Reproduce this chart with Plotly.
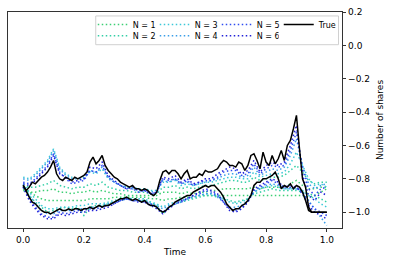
import numpy as np
import plotly.graph_objects as go

# time grids
t_true = np.linspace(0, 1, 101)
t_apx = np.linspace(0, 1, 51)

true_a = [-0.84, -0.87, -0.85, -0.82, -0.83, -0.81, -0.79, -0.78, -0.76, -0.73,
          -0.69, -0.77, -0.80, -0.81, -0.79, -0.80, -0.81, -0.79, -0.80, -0.79,
          -0.78, -0.76, -0.70, -0.67, -0.71, -0.69, -0.66, -0.72, -0.75, -0.77,
          -0.79, -0.80, -0.82, -0.83, -0.84, -0.85, -0.84, -0.86, -0.86, -0.87,
          -0.86, -0.87, -0.89, -0.90, -0.88, -0.81, -0.76, -0.75, -0.77, -0.75,
          -0.75, -0.77, -0.80, -0.77, -0.75, -0.80, -0.79, -0.79, -0.77, -0.78,
          -0.75, -0.76, -0.76, -0.75, -0.74, -0.71, -0.69, -0.70, -0.72, -0.72,
          -0.73, -0.70, -0.71, -0.75, -0.72, -0.66, -0.65, -0.69, -0.74, -0.64,
          -0.70, -0.72, -0.66, -0.71, -0.68, -0.63, -0.69, -0.60, -0.57, -0.50,
          -0.42, -0.62, -0.80, -0.85, -0.97, -1.00, -1.00, -1.00, -1.00, -1.00,
          -1.00]

true_b = [-0.84, -0.88, -0.91, -0.94, -0.95, -0.97, -0.99, -1.00, -1.00, -1.01,
          -1.00, -0.99, -0.98, -0.99, -0.99, -0.98, -0.99, -0.98, -0.98, -0.99,
          -0.98, -0.98, -0.97, -0.98, -0.97, -0.96, -0.97, -0.96, -0.96, -0.95,
          -0.94, -0.93, -0.92, -0.92, -0.91, -0.92, -0.93, -0.92, -0.93, -0.94,
          -0.93, -0.95, -0.96, -0.96, -0.97, -0.99, -1.00, -0.99, -0.97, -0.96,
          -0.94, -0.93, -0.92, -0.91, -0.90, -0.90, -0.88, -0.87, -0.86, -0.85,
          -0.84, -0.85, -0.84, -0.84, -0.86, -0.88, -0.91, -0.95, -0.97, -0.99,
          -0.98, -0.98, -0.96, -0.95, -0.93, -0.90, -0.84, -0.82, -0.82, -0.80,
          -0.80, -0.79, -0.78, -0.76, -0.80, -0.86, -0.84, -0.85, -0.83, -0.86,
          -0.84, -0.85, -0.88, -0.93, -0.99, -1.00, -1.00, -1.00, -1.00, -1.00,
          -1.00]

# approximations, path A
a_n1 = [-0.87, -0.88, -0.88, -0.87, -0.87, -0.86, -0.88, -0.88, -0.89, -0.88,
        -0.88, -0.87, -0.88, -0.87, -0.88, -0.89, -0.89, -0.90, -0.90, -0.90,
        -0.90, -0.90, -0.90, -0.88, -0.88, -0.88, -0.89, -0.88, -0.89, -0.88,
        -0.88, -0.87, -0.87, -0.86, -0.86, -0.86, -0.86, -0.86, -0.85, -0.86,
        -0.85, -0.85, -0.85, -0.85, -0.83, -0.81, -0.84, -0.86, -0.86, -0.85, -0.85]
a_n2 = [-0.84, -0.85, -0.85, -0.84, -0.83, -0.81, -0.84, -0.85, -0.86, -0.85,
        -0.85, -0.83, -0.84, -0.82, -0.85, -0.86, -0.87, -0.87, -0.88, -0.88,
        -0.88, -0.89, -0.89, -0.85, -0.85, -0.84, -0.86, -0.85, -0.86, -0.85,
        -0.84, -0.84, -0.83, -0.82, -0.81, -0.81, -0.82, -0.82, -0.79, -0.81,
        -0.80, -0.79, -0.79, -0.78, -0.75, -0.72, -0.76, -0.81, -0.83, -0.82, -0.82]
a_n3 = [-0.79, -0.80, -0.77, -0.73, -0.69, -0.62, -0.73, -0.77, -0.79, -0.80,
        -0.79, -0.76, -0.77, -0.74, -0.80, -0.82, -0.84, -0.85, -0.85, -0.86,
        -0.86, -0.87, -0.87, -0.82, -0.82, -0.81, -0.84, -0.83, -0.84, -0.83,
        -0.82, -0.82, -0.81, -0.80, -0.79, -0.79, -0.80, -0.80, -0.76, -0.79,
        -0.78, -0.77, -0.77, -0.76, -0.71, -0.64, -0.72, -0.80, -0.84, -0.83, -0.85]
a_n4 = [-0.80, -0.81, -0.78, -0.74, -0.70, -0.63, -0.74, -0.78, -0.80, -0.80,
        -0.80, -0.75, -0.76, -0.73, -0.79, -0.82, -0.84, -0.85, -0.86, -0.87,
        -0.87, -0.88, -0.87, -0.81, -0.82, -0.80, -0.83, -0.82, -0.84, -0.83,
        -0.82, -0.81, -0.80, -0.78, -0.77, -0.77, -0.79, -0.78, -0.73, -0.78,
        -0.76, -0.74, -0.75, -0.73, -0.66, -0.56, -0.72, -0.83, -0.86, -0.84, -0.83]
a_n5 = [-0.82, -0.83, -0.80, -0.76, -0.72, -0.65, -0.76, -0.80, -0.83, -0.82,
        -0.81, -0.75, -0.76, -0.72, -0.79, -0.82, -0.84, -0.86, -0.86, -0.88,
        -0.87, -0.89, -0.88, -0.80, -0.81, -0.80, -0.83, -0.81, -0.84, -0.82,
        -0.81, -0.81, -0.79, -0.76, -0.75, -0.75, -0.78, -0.77, -0.71, -0.77,
        -0.74, -0.72, -0.73, -0.72, -0.63, -0.52, -0.74, -0.86, -0.90, -0.86, -0.85]
a_n6 = [-0.83, -0.84, -0.81, -0.77, -0.73, -0.66, -0.77, -0.79, -0.82, -0.81,
        -0.80, -0.73, -0.74, -0.70, -0.78, -0.81, -0.84, -0.86, -0.85, -0.87,
        -0.87, -0.89, -0.88, -0.79, -0.80, -0.78, -0.82, -0.80, -0.83, -0.82,
        -0.80, -0.80, -0.77, -0.75, -0.73, -0.74, -0.77, -0.75, -0.69, -0.76,
        -0.72, -0.70, -0.72, -0.70, -0.60, -0.48, -0.78, -0.90, -0.93, -0.88, -0.90]

# approximations, path B
b_n1 = [-0.86, -0.88, -0.90, -0.92, -0.93, -0.93, -0.93, -0.93, -0.93, -0.93,
        -0.93, -0.92, -0.92, -0.92, -0.92, -0.91, -0.91, -0.91, -0.91, -0.91,
        -0.91, -0.92, -0.92, -0.93, -0.92, -0.92, -0.91, -0.91, -0.91, -0.90,
        -0.90, -0.90, -0.90, -0.90, -0.90, -0.90, -0.90, -0.90, -0.90, -0.90,
        -0.90, -0.90, -0.90, -0.90, -0.90, -0.90, -0.90, -0.91, -0.90, -0.88, -0.86]
b_n2 = [-0.85, -0.90, -0.94, -0.97, -1.00, -0.99, -0.98, -0.97, -0.98, -0.97,
        -1.02, -0.97, -0.96, -0.96, -0.95, -0.94, -0.93, -0.92, -0.92, -0.93,
        -0.93, -0.94, -0.96, -1.01, -0.97, -0.95, -0.94, -0.93, -0.92, -0.91,
        -0.90, -0.90, -0.91, -0.92, -0.93, -0.94, -0.93, -0.92, -0.89, -0.88,
        -0.87, -0.86, -0.87, -0.87, -0.87, -0.87, -0.88, -0.89, -0.90, -0.92, -0.94]
b_n3 = [-0.83, -0.88, -0.92, -0.96, -0.98, -0.98, -0.97, -0.97, -0.97, -0.96,
        -0.96, -0.95, -0.95, -0.95, -0.94, -0.93, -0.92, -0.91, -0.92, -0.92,
        -0.92, -0.94, -0.95, -0.97, -0.95, -0.94, -0.93, -0.92, -0.91, -0.90,
        -0.89, -0.89, -0.90, -0.92, -0.94, -0.95, -0.94, -0.92, -0.88, -0.86,
        -0.85, -0.84, -0.85, -0.86, -0.86, -0.86, -0.87, -0.90, -0.92, -0.95, -0.97]
b_n4 = [-0.84, -0.90, -0.95, -0.99, -1.01, -1.01, -0.99, -0.99, -0.99, -0.98,
        -0.98, -0.97, -0.97, -0.96, -0.95, -0.94, -0.93, -0.92, -0.93, -0.93,
        -0.93, -0.95, -0.96, -0.98, -0.96, -0.95, -0.94, -0.92, -0.91, -0.90,
        -0.89, -0.89, -0.91, -0.94, -0.97, -0.97, -0.96, -0.93, -0.88, -0.86,
        -0.84, -0.83, -0.84, -0.86, -0.86, -0.86, -0.88, -0.93, -0.98, -1.03, -1.08]
b_n5 = [-0.85, -0.92, -0.97, -1.01, -1.03, -1.03, -1.00, -1.01, -1.00, -0.99,
        -0.99, -0.98, -0.98, -0.97, -0.96, -0.95, -0.93, -0.92, -0.93, -0.93,
        -0.94, -0.95, -0.97, -1.00, -0.97, -0.95, -0.94, -0.92, -0.90, -0.89,
        -0.87, -0.88, -0.90, -0.94, -0.98, -0.99, -0.97, -0.94, -0.87, -0.85,
        -0.83, -0.81, -0.83, -0.85, -0.85, -0.85, -0.88, -0.94, -0.98, -1.00, -1.02]
b_n6 = [-0.85, -0.93, -0.98, -1.02, -1.04, -1.04, -1.01, -1.02, -1.01, -1.00,
        -1.00, -0.99, -0.99, -0.98, -0.97, -0.95, -0.93, -0.92, -0.93, -0.94,
        -0.94, -0.96, -0.98, -1.01, -0.98, -0.95, -0.93, -0.92, -0.90, -0.88,
        -0.86, -0.87, -0.89, -0.94, -0.99, -1.00, -0.98, -0.94, -0.86, -0.84,
        -0.82, -0.80, -0.82, -0.85, -0.84, -0.85, -0.89, -0.96, -1.00, -1.02, -1.04]

labels = ["N = 1", "N = 2", "N = 3", "N = 4", "N = 5", "N = 6"]
colors = ["#3ccf74", "#33cfa6", "#3cc8d8", "#3a9ee8", "#2f4cf0", "#2222d8"]
series_a = [a_n1, a_n2, a_n3, a_n4, a_n5, a_n6]
series_b = [b_n1, b_n2, b_n3, b_n4, b_n5, b_n6]
legend_of = ["legend", "legend2", "legend", "legend2", "legend", "legend2"]

FONT = "DejaVu Sans"
fig = go.Figure()
for lab, col, ya, yb, lg in zip(labels, colors, series_a, series_b, legend_of):
    for k, yy in enumerate((ya, yb)):
        fig.add_trace(go.Scatter(
            x=t_apx, y=yy, mode="lines", name=lab,
            line=dict(color=col, width=1.5, dash="1.5px,2.5px"),
            showlegend=(k == 0), legend=lg, legendgroup=lab,
        ))
for k, yy in enumerate((true_a, true_b)):
    fig.add_trace(go.Scatter(
        x=t_true, y=yy, mode="lines", name="True",
        line=dict(color="black", width=1.5),
        showlegend=(k == 0), legend="legend", legendgroup="True",
    ))

W, H = 394, 266
ml, mr, mt, mb = 7, 52, 10, 38
pw, ph = W - ml - mr, H - mt - mb


def px_x(p):
    return (p - ml) / pw


def px_y(p):
    return (H - mb - p) / ph


leg_common = dict(orientation="h", bgcolor="rgba(0,0,0,0)", borderwidth=0,
                  font=dict(family=FONT, size=8, color="black"),
                  entrywidth=17, entrywidthmode="pixels",
                  xanchor="left", yanchor="middle", tracegroupgap=0,
                  itemwidth=30)

fig.update_layout(
    width=W, height=H,
    margin=dict(l=ml, r=mr, t=mt, b=mb, pad=0),
    paper_bgcolor="white", plot_bgcolor="white",
    font=dict(family=FONT, size=9, color="black"),
    legend=dict(x=px_x(92), y=px_y(22.5), **leg_common),
    legend2=dict(x=px_x(92), y=px_y(34), **leg_common),
    xaxis=dict(range=[-0.05, 1.05], tickmode="array",
               tickvals=[0, 0.2, 0.4, 0.6, 0.8, 1.0],
               ticktext=["0.0", "0.2", "0.4", "0.6", "0.8", "1.0"],
               ticks="outside", ticklen=3.5, tickwidth=0.8, tickcolor="black",
               showline=True, linecolor="black", linewidth=0.8, mirror=True,
               showgrid=False, zeroline=False,
               title=dict(text="Time", standoff=4, font=dict(size=9)),
               tickfont=dict(size=9)),
    yaxis=dict(range=[-1.095, 0.2], side="right", tickmode="array",
               tickvals=[-1.0, -0.8, -0.6, -0.4, -0.2, 0.0, 0.2],
               tickformat=".1f",
               ticks="outside", ticklen=3.5, tickwidth=0.8, tickcolor="black",
               showline=True, linecolor="black", linewidth=0.8, mirror=True,
               showgrid=False, zeroline=False,
               title=dict(text="Number of shares", standoff=7, font=dict(size=9)),
               tickfont=dict(size=9)),
    shapes=[dict(type="rect", xref="paper", yref="paper",
                 x0=px_x(95), x1=px_x(338.5), y0=px_y(43), y1=px_y(14),
                 line=dict(color="#d0d0d0", width=1), fillcolor="rgba(255,255,255,0.8)",
                 layer="above")],
)

fig.write_html("out.html",
               config={"displayModeBar": False, "staticPlot": True},
               post_script="document.body.style.margin='0';document.body.style.padding='0';")
